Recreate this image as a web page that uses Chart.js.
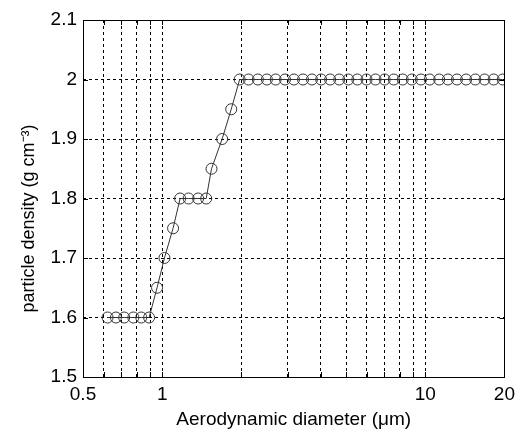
<!DOCTYPE html>
<html>
<head>
<meta charset="utf-8">
<script src="https://cdn.jsdelivr.net/npm/chart.js@4/dist/chart.umd.min.js"></script>
<style>
  html, body { margin: 0; padding: 0; background: #fff; }
  #wrap { width: 521px; height: 434px; position: relative; }
</style>
</head>
<body>
<div id="wrap"><canvas id="chart"></canvas></div>
<script>
// aerodynamic diameter (um) and particle density (g cm-3)
const diameters = [
  0.62, 0.667, 0.717, 0.777, 0.833, 0.892, 0.956, 1.02, 1.10, 1.17,
  1.26, 1.37, 1.47, 1.54, 1.69, 1.83,
  1.97, 2.13, 2.31, 2.50, 2.70, 2.93, 3.17, 3.43, 3.71, 4.02,
  4.35, 4.71, 5.10, 5.52, 5.98, 6.47, 7.01, 7.59, 8.21, 8.89,
  9.63, 10.4, 11.3, 12.2, 13.2, 14.3, 15.5, 16.8, 18.2, 19.7
];
const densities = [
  1.6, 1.6, 1.6, 1.6, 1.6, 1.6, 1.65, 1.7, 1.75, 1.8,
  1.8, 1.8, 1.8, 1.85, 1.9, 1.95,
  2, 2, 2, 2, 2, 2, 2, 2, 2, 2,
  2, 2, 2, 2, 2, 2, 2, 2, 2, 2,
  2, 2, 2, 2, 2, 2, 2, 2, 2, 2
];

const xTicks      = [0.5, 0.6, 0.7, 0.8, 0.9, 1, 2, 3, 4, 5, 6, 7, 8, 9, 10, 20];
const xTickLabels = [0.5, 1, 10, 20];
const yTicks      = [1.5, 1.6, 1.7, 1.8, 1.9, 2.0, 2.1];

const FONT = 'Liberation Sans, Arial, sans-serif';

// MATLAB-like box with short inward tick marks
const boxPlugin = {
  id: 'box',
  afterDraw(chart) {
    const { ctx, chartArea: a, scales } = chart;
    ctx.save();
    ctx.strokeStyle = '#000';
    ctx.lineWidth = 1;
    ctx.setLineDash([]);
    ctx.beginPath();
    const L = 5;
    xTicks.forEach(v => {
      const x = Math.round(scales.x.getPixelForValue(v)) + 0.5;
      ctx.moveTo(x, a.bottom); ctx.lineTo(x, a.bottom - L);
      ctx.moveTo(x, a.top);    ctx.lineTo(x, a.top + L);
    });
    yTicks.forEach(v => {
      const y = Math.round(scales.y.getPixelForValue(v)) + 0.5;
      ctx.moveTo(a.left, y);  ctx.lineTo(a.left + L, y);
      ctx.moveTo(a.right, y); ctx.lineTo(a.right - L, y);
    });
    ctx.stroke();
    ctx.strokeRect(Math.round(a.left) + 0.5, Math.round(a.top) + 0.5,
                   Math.round(a.right - a.left), Math.round(a.bottom - a.top));
    ctx.restore();
  }
};

const gridDash = {
  color: '#000',
  lineWidth: 1,
  drawTicks: false,
  borderDash: [3, 3]
};

new Chart(document.getElementById('chart'), {
  type: 'line',
  data: {
    datasets: [{
      data: diameters.map((d, i) => ({ x: d, y: densities[i] })),
      borderColor: '#333',
      borderWidth: 1,
      pointRadius: 5.5,
      pointHoverRadius: 5.5,
      pointBorderWidth: 1,
      pointBorderColor: '#333',
      pointBackgroundColor: 'rgba(255,255,255,0)',
      tension: 0,
      fill: false
    }]
  },
  options: {
    responsive: true,
    maintainAspectRatio: false,
    animation: false,
    layout: { padding: { top: 20, right: 12, left: 0, bottom: 0 } },
    plugins: { legend: { display: false }, tooltip: { enabled: false } },
    scales: {
      x: {
        type: 'logarithmic',
        min: 0.5,
        max: 20,
        grid: gridDash,
        border: { display: false, dash: [3, 3] },
        afterBuildTicks: s => { s.ticks = xTicks.map(v => ({ value: v })); },
        afterFit: s => { s.height = 57; },
        ticks: {
          autoSkip: false,
          maxRotation: 0,
          padding: 6,
          color: '#000',
          font: { family: FONT, size: 19 },
          callback: v => xTickLabels.includes(v) ? String(v) : ''
        },
        title: {
          display: true,
          text: 'Aerodynamic diameter (μm)',
          color: '#000',
          font: { family: FONT, size: 19 },
          padding: { top: 0, bottom: 3 }
        }
      },
      y: {
        min: 1.5,
        max: 2.1,
        grid: gridDash,
        border: { display: false, dash: [3, 3] },
        afterBuildTicks: s => { s.ticks = yTicks.map(v => ({ value: v })); },
        afterFit: s => { s.width = 83; },
        ticks: {
          padding: 6,
          color: '#000',
          font: { family: FONT, size: 19 },
          callback: v => String(Math.round(v * 10) / 10)
        },
        title: {
          display: true,
          // trailing spaces nudge the label down the axis as in the original
          text: 'particle density (g cm⁻³)        ',
          color: '#000',
          font: { family: FONT, size: 18 },
          padding: { top: 18, bottom: 0 }
        }
      }
    }
  },
  plugins: [boxPlugin]
});
</script>
</body>
</html>
